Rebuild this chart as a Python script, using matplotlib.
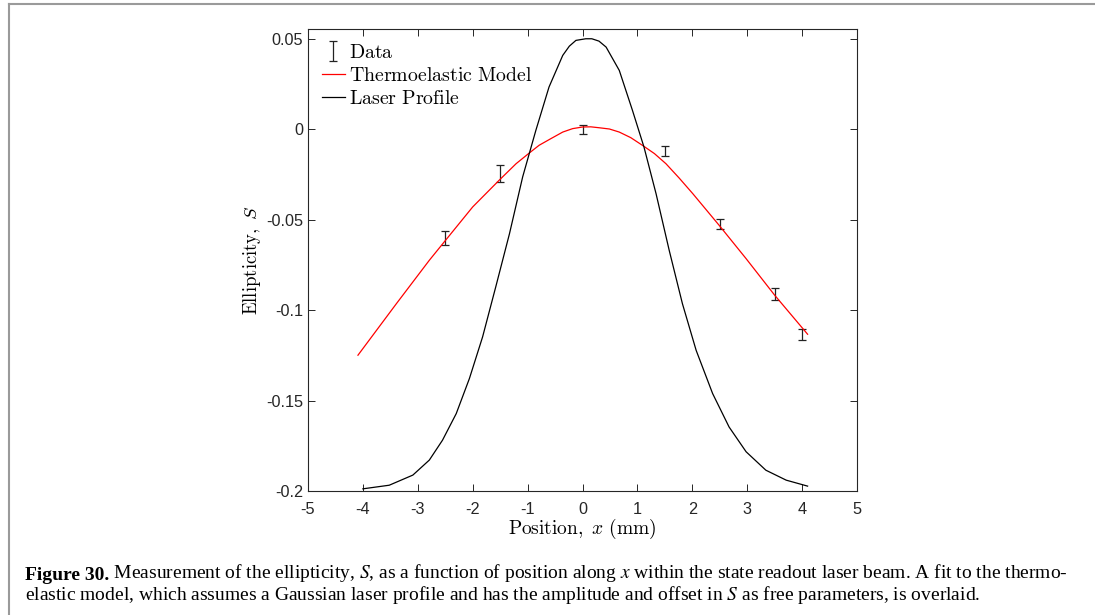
import matplotlib
matplotlib.use('Agg')
import matplotlib.pyplot as plt
from matplotlib.lines import Line2D

# measured ellipticity with error bars
pos = [-2.5, -1.5, 0.0, 1.5, 2.5, 3.5, 4.0]
ell = [-0.0599, -0.0246, 0.0, -0.0120, -0.0522, -0.0912, -0.1135]
err = [0.0038, 0.0047, 0.0024, 0.0028, 0.0027, 0.0032, 0.0029]

# thermoelastic model fit
model_x = [-4.09, -3.39, -2.79, -2.52, -2.0, -1.52, -1.21, -0.97, -0.79, -0.58, -0.36, -0.18, 0.0, 0.15,
           0.30, 0.49, 0.67, 0.88, 1.09, 1.31, 1.52, 1.76, 2.01, 2.49, 2.98, 3.50, 4.10]
model_y = [-0.1249, -0.0964, -0.0724, -0.0623, -0.0429, -0.0282, -0.0190, -0.0131, -0.0088, -0.0052, -0.0015, 0.0004, 0.0013, 0.0014,
           0.0009, 0.0002, -0.0015, -0.0046, -0.0088, -0.0134, -0.0190, -0.0269, -0.0356, -0.0531, -0.0715, -0.0917, -0.1133]

# laser profile (scaled onto the S axis)
laser_x = [-4.0, -3.52, -3.09, -2.79, -2.55, -2.30, -2.06, -1.82, -1.58, -1.33, -1.09, -0.85,
           -0.61, -0.36, -0.24, -0.12, 0.06, 0.17, 0.30, 0.43, 0.67, 0.91, 1.12, 1.34, 1.58,
           1.82, 2.07, 2.37, 2.67, 2.98, 3.34, 3.71, 4.10]
laser_y = [-0.1988, -0.1968, -0.1912, -0.1829, -0.1719, -0.1572, -0.1378, -0.1148, -0.0871, -0.0577, -0.0263, -0.0006,
           0.0234, 0.0409, 0.0460, 0.0492, 0.0501, 0.0501, 0.0488, 0.0455, 0.0326, 0.0105, -0.0098, -0.0356, -0.0670,
           -0.0964, -0.1222, -0.1461, -0.1646, -0.1783, -0.1885, -0.1940, -0.1973]

xticks = [-5, -4, -3, -2, -1, 0, 1, 2, 3, 4, 5]
yticks = [0.05, 0, -0.05, -0.1, -0.15, -0.2]
ytick_labels = ['0.05', '0', '-0.05', '-0.1', '-0.15', '-0.2']

plt.rcParams['font.family'] = ['Liberation Sans', 'DejaVu Sans']
plt.rcParams['mathtext.fontset'] = 'cm'
plt.rcParams['axes.unicode_minus'] = False

fig = plt.figure(figsize=(10.95, 6.15), dpi=100)
ax = fig.add_axes([308 / 1095, 1 - 491 / 615, 549 / 1095, 462 / 615])

eb = ax.errorbar(pos, ell, yerr=err, fmt='none', ecolor='#222222', elinewidth=0.9,
                 capsize=2.6, capthick=0.9, label=r'$\mathrm{Data}$')
mod, = ax.plot(model_x, model_y, color='red', lw=0.9, label=r'$\mathrm{Thermoelastic\ Model}$')
las, = ax.plot(laser_x, laser_y, color='black', lw=0.9, label=r'$\mathrm{Laser\ Profile}$')

ax.set_xlim(-5, 5)
ax.set_ylim(-0.2, 0.0555)
ax.set_xticks(xticks, [str(t) for t in xticks])
ax.set_yticks(yticks, ytick_labels)
ax.tick_params(direction='in', top=True, right=True, length=5, width=0.7,
               labelsize=11.7, colors='#262626')
ax.tick_params(axis='x', pad=8)
for s in ax.spines.values():
    s.set_color('#262626')
    s.set_linewidth(0.8)

ax.set_xlabel(r'$\mathrm{Position,}\ x\ \mathrm{(mm)}$', fontsize=14, labelpad=0)
ax.set_ylabel(r'$\mathrm{Ellipticity,}\ S$', fontsize=13.5, labelpad=2)

ax.legend(handles=[eb, mod, las], loc='upper left', frameon=False, fontsize=14.3,
          handlelength=1.15, handletextpad=0.2, labelspacing=0.2,
          borderaxespad=0.35, borderpad=0.35)

# page border lines
fig.add_artist(Line2D([9 / 1095, 1], [1 - 4 / 615, 1 - 4 / 615], color='#9a9a9a', lw=1.5))
fig.add_artist(Line2D([9 / 1095, 9 / 1095], [0, 1 - 4 / 615], color='#9a9a9a', lw=1.5))

# caption
cap_kw = dict(fontsize=14, family=['Liberation Serif', 'DejaVu Serif'], math_fontfamily='stix', va='bottom')
b1 = fig.text(25 / 1095, 1 - 584 / 615, 'Figure 30.', fontweight='bold', **cap_kw)
ax.annotate(' Measurement of the ellipticity, $S$, as a function of position along $x$ within the state '
            'readout laser beam. A fit to the thermo-',
            xy=(1, 0), xycoords=b1, annotation_clip=False, **cap_kw)
fig.text(25 / 1095, 1 - 606 / 615,
         'elastic model, which assumes a Gaussian laser profile and has the amplitude and offset in $S$ '
         'as free parameters, is overlaid.', **cap_kw)

fig.savefig('out.png', dpi=100)
